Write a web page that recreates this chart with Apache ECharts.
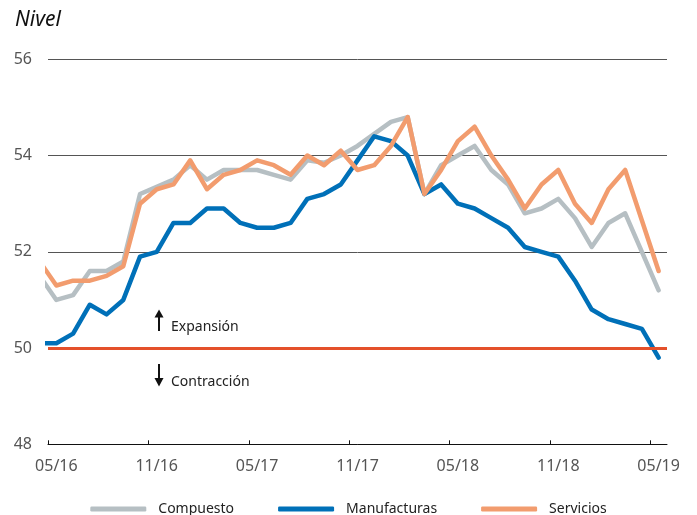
<!DOCTYPE html>
<html>
<head>
<meta charset="utf-8">
<script src="https://cdn.jsdelivr.net/npm/echarts@6/dist/echarts.min.js"></script>
<style>
  html, body { margin: 0; padding: 0; background: #fff; }
  #chart { width: 697px; height: 515px; }
</style>
</head>
<body>
<div id="chart"></div>
<script>
// meses: the first one (04/16) only shows as a clipped stub at the left edge
var meses = ['04/16',
  '05/16', '06/16', '07/16', '08/16', '09/16', '10/16', '11/16', '12/16',
  '01/17', '02/17', '03/17', '04/17', '05/17', '06/17', '07/17', '08/17', '09/17', '10/17', '11/17', '12/17',
  '01/18', '02/18', '03/18', '04/18', '05/18', '06/18', '07/18', '08/18', '09/18', '10/18', '11/18', '12/18',
  '01/19', '02/19', '03/19', '04/19', '05/19']

var compuesto = [51.5,
  51.0, 51.1, 51.6, 51.6, 51.8, 53.2, 53.35, 53.5,
  53.8, 53.5, 53.7, 53.7, 53.7, 53.6, 53.5, 53.9, 53.85, 54.0, 54.2, 54.45,
  54.7, 54.8, 53.2, 53.8, 54.0, 54.2, 53.7, 53.4, 52.8, 52.9, 53.1, 52.7,
  52.1, 52.6, 52.8, 52.0, 51.2]

var manufacturas = [50.1,
  50.1, 50.3, 50.9, 50.7, 51.0, 51.9, 52.0, 52.6,
  52.6, 52.9, 52.9, 52.6, 52.5, 52.5, 52.6, 53.1, 53.2, 53.4, 53.9, 54.4,
  54.3, 54.0, 53.2, 53.4, 53.0, 52.9, 52.7, 52.5, 52.1, 52.0, 51.9, 51.4,
  50.8, 50.6, 50.5, 50.4, 49.8]

var servicios = [51.8,
  51.3, 51.4, 51.4, 51.5, 51.7, 53.0, 53.3, 53.4,
  53.9, 53.3, 53.6, 53.7, 53.9, 53.8, 53.6, 54.0, 53.8, 54.1, 53.7, 53.8,
  54.2, 54.8, 53.2, 53.7, 54.3, 54.6, 54.0, 53.5, 52.9, 53.4, 53.7, 53.0,
  52.6, 53.3, 53.7, 52.65, 51.6]

var umbral = 50

// x position: month index, 05/16 = 0
function pares(arr) {
  return arr.map(function (v, i) { return [i - 1, v] })
}

var labelPos = []
var tickPos = []
for (var i = 0; i <= 36; i += 6) {
  labelPos.push(i)
  tickPos.push(i - 0.5)
}

var font = 'Noto Sans'
var chart = echarts.init(document.getElementById('chart'))

chart.setOption({
  animation: false,
  textStyle: { fontFamily: font },
  title: {
    text: 'Nivel',
    left: 10,
    top: 5,
    textStyle: { fontFamily: font, fontStyle: 'italic', fontWeight: 'normal', fontSize: 21, color: '#111' }
  },
  grid: { left: 48, right: 30, top: 59.3, bottom: 70.7 },
  xAxis: {
    type: 'value',
    min: -0.5,
    max: 36.5,
    axisLine: { onZero: false, lineStyle: { color: '#111', width: 1 } },
    axisTick: {
      show: true,
      inside: true,
      length: 4,
      customValues: tickPos,
      lineStyle: { color: '#111' }
    },
    axisLabel: {
      customValues: labelPos,
      margin: 14,
      fontSize: 16,
      color: '#555',
      fontFamily: font,
      formatter: function (v) { return meses[Math.round(v) + 1] }
    },
    splitLine: { show: false }
  },
  yAxis: {
    type: 'value',
    min: 48,
    max: 56,
    interval: 2,
    axisLine: { show: false },
    axisTick: { show: false },
    axisLabel: { margin: 16, fontSize: 16, color: '#555', fontFamily: font },
    splitLine: { lineStyle: { color: '#555', width: 1 } }
  },
  legend: {
    top: 497,
    left: 'center',
    icon: 'roundRect',
    itemWidth: 56,
    itemHeight: 5,
    itemGap: 44,
    textStyle: { fontFamily: font, fontSize: 14, color: '#222', padding: [0, 0, 0, 7] },
    data: ['Compuesto', 'Manufacturas', 'Servicios']
  },
  series: [
    {
      name: 'Compuesto',
      type: 'line',
      data: pares(compuesto),
      showSymbol: false,
      clip: true,
      color: '#b6bfc3',
      lineStyle: { width: 4.5, cap: 'round', join: 'round' }
    },
    {
      name: 'Manufacturas',
      type: 'line',
      data: pares(manufacturas),
      showSymbol: false,
      clip: true,
      color: '#0070b8',
      lineStyle: { width: 4.5, cap: 'round', join: 'round' }
    },
    {
      name: 'Servicios',
      type: 'line',
      data: pares(servicios),
      showSymbol: false,
      clip: true,
      color: '#f29c6e',
      lineStyle: { width: 4.5, cap: 'round', join: 'round' },
      markLine: {
        silent: true,
        symbol: 'none',
        label: { show: false },
        lineStyle: { color: '#e4502a', width: 3, type: 'solid' },
        data: [{ yAxis: umbral }]
      }
    }
  ],
  graphic: [
    { type: 'line', shape: { x1: 159, y1: 315, x2: 159, y2: 331 }, style: { stroke: '#111', lineWidth: 2 } },
    { type: 'polygon', shape: { points: [[154.5, 317.5], [159, 309.5], [163.5, 317.5]] }, style: { fill: '#111' } },
    { type: 'line', shape: { x1: 159, y1: 364, x2: 159, y2: 380 }, style: { stroke: '#111', lineWidth: 2 } },
    { type: 'polygon', shape: { points: [[154.5, 378], [159, 386.5], [163.5, 378]] }, style: { fill: '#111' } },
    {
      type: 'text', left: 171, top: 320,
      style: { text: 'Expansión', fontFamily: font, fontSize: 14, fill: '#222' }
    },
    {
      type: 'text', left: 171, top: 375,
      style: { text: 'Contracción', fontFamily: font, fontSize: 14, fill: '#222' }
    }
  ]
})
</script>
</body>
</html>
